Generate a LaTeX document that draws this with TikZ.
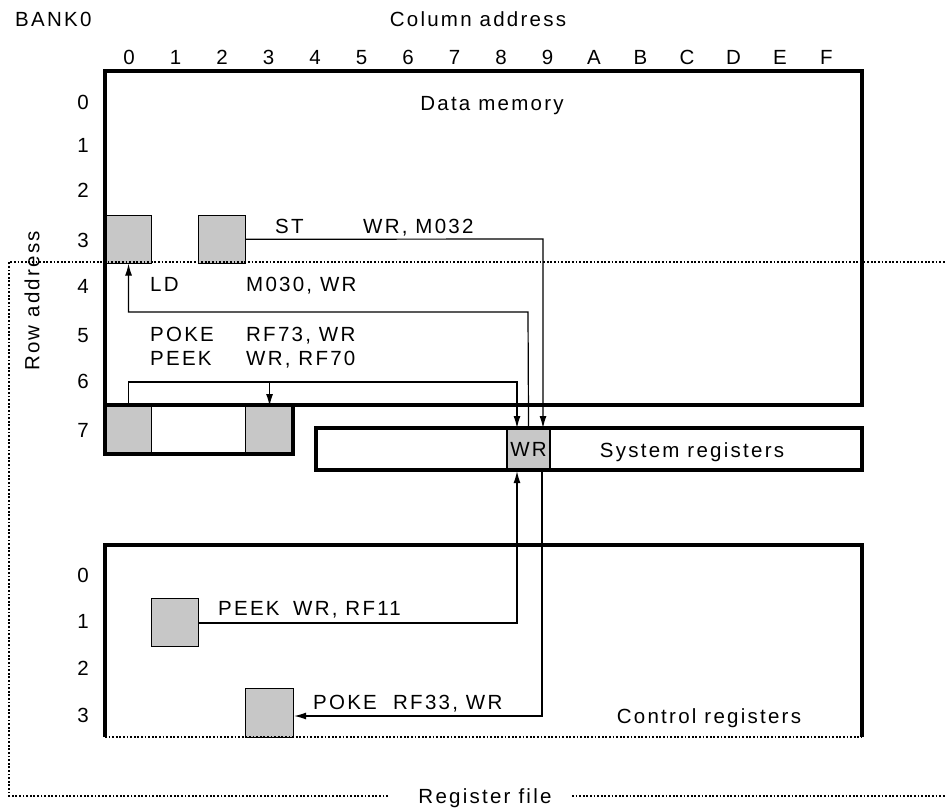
\documentclass[tikz,border=0pt]{standalone}
\usepackage{fontspec}
\setmainfont{Liberation Sans}[LetterSpace=11]
\usetikzlibrary{arrows.meta}
\begin{document}
\begin{tikzpicture}[x=1pt,y=-1pt,
  thickline/.style={line width=3.4pt},
  cell/.style={draw, line width=1.1pt, fill=black!22, anchor=north west, inner sep=0pt,
    minimum width=47pt, minimum height=47.5pt},
  conn/.style={line width=1.2pt},
  arr/.style={conn, -{Latex[length=12pt,width=7pt]}},
  dotl/.style={line width=1.3pt, dash pattern=on 1.8pt off 1.8pt},
  lbl/.style={font=\fontsize{20.5}{23}\selectfont, inner sep=0pt, text height=14.8pt, text depth=0pt},
  lbll/.style={lbl, anchor=west}]
\useasboundingbox (0,0) rectangle (946,811);

% cells
\node[cell, minimum width=46pt] (m30) at (105,215) {};
\node[cell] (m32) at (198,215) {};
\node[cell, minimum width=46pt, minimum height=48pt] (rf70) at (105,406) {};
\node[cell, minimum width=48pt, minimum height=48pt] (rf73) at (245,406) {};
\node[cell, minimum width=42pt, minimum height=42pt] (wr) at (507,428) {};
\node[cell, minimum height=48pt] (rf11) at (151,598) {};
\node[cell, minimum width=48pt, minimum height=49pt] (rf33) at (245,688) {};
\node[lbl] at (wr.center) {WR};

% dotted register-file outline
\node[lbl] (regf) at (485,796) {Register file};
\coordinate (rfa) at (388,796);
\coordinate (rfb) at (572,796);
\draw[dotl] (rfa) -- (9,796) -- (9,262) -- (946,262);
\draw[dotl] (rfb) -- (946,796);

% data memory
\draw[thickline] (105,71) rectangle (862,405);
\draw[thickline] (105,405) rectangle (293,454);
% system registers
\draw[thickline] (316,428) rectangle (862,470);
\draw[line width=1.1pt] (wr.north west) rectangle (wr.south east);
% control registers
\draw[thickline] (105,737) -- (105,545) -- (862,545) -- (862,737);
\draw[dotl] (105,737) -- (862,737);

% connectors
\coordinate (stc) at (543,239);
\coordinate (ldc) at (528,312);
\coordinate (pkc) at (517,382);
\draw[arr] (m32.east) -- (stc) -- (stc |- wr.north);
\draw[arr] (wr.north) -- (ldc) -- (ldc -| m30.south) -- (m30.south);
\draw[arr] (rf70.north) -- (rf70.north |- pkc) -- (pkc) -- (pkc |- wr.north);
\draw[arr] (rf73.north |- pkc) -- (rf73.north);
\coordinate (p11) at (517,623);
\draw[arr] (rf11.east |- p11) -- (p11) -- (p11 |- wr.south);
\coordinate (p33) at (542,716);
\draw[arr] (p33 |- wr.south) -- (p33) -- (rf33.east |- p33);

% header texts
\node[lbll] (bank) at (15,19) {BANK0};
\node[lbl] (coladdr) at (478,19) {Column address};
\node[lbl, rotate=90] (rowaddr) at (32,301) {Row address};
\foreach \c [count=\i from 0] in {0,1,2,3,4,5,6,7,8,9,A,B,C,D,E,F}
  \node[lbl] (col\i) at (129+46.5*\i,57) {\c};
\foreach \r/\y in {0/102,1/145,2/190,3/240,4/286,5/335,6/381,7/430}
  \node[lbl] (dr\r) at (83,\y) {\r};
\foreach \r/\y in {0/575,1/621,2/668,3/715}
  \node[lbl] (cr\r) at (83,\y) {\r};

% region titles
\node[lbl] (dm) at (492,103) {Data memory};
\node[lbl] (sr) at (692,450) {System registers};
\node[lbl] (ctl) at (709,716) {Control registers};

% instruction labels
\node[lbll] (st1) at (275,226) {ST};
\node[lbll] (st2) at (363,226) {WR, M032};
\node[lbll] (ld1) at (150,284) {LD};
\node[lbll] (ld2) at (246,284) {M030, WR};
\node[lbll] (po1) at (150,334) {POKE};
\node[lbll] (po2) at (246,334) {RF73, WR};
\node[lbll] (pe1) at (150,358) {PEEK};
\node[lbll] (pe2) at (246,358) {WR, RF70};
\node[lbll] (pe3) at (218,608) {PEEK};
\node[lbll] (pe4) at (293,608) {WR, RF11};
\node[lbll] (po3) at (313,702) {POKE};
\node[lbll] (po4) at (393,702) {RF33, WR};
\end{tikzpicture}
\end{document}
